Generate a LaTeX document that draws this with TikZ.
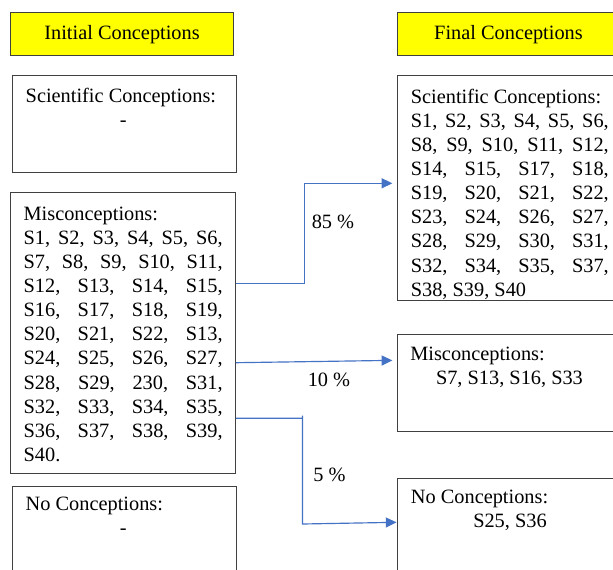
\documentclass[tikz,border=0pt]{standalone}
\usepackage{fontspec}
\setmainfont{Liberation Serif}
\usetikzlibrary{arrows.meta}
\definecolor{arrblue}{HTML}{4472C4}
\definecolor{ybg}{HTML}{FFFF00}
\newcommand{\jl}[2][119.4pt]{\makebox[#1][s]{\spaceskip=0pt\xspaceskip=0pt\relax #2}}
\newcommand{\fs}{\rule{0pt}{10pt}\spaceskip=0pt\xspaceskip=0pt\relax}
\begin{document}
\begin{tikzpicture}[x=0.6pt,y=-0.6pt,
  font=\fontsize{12.2pt}{14.46pt}\selectfont,
  box/.style={draw=black!75, line width=0.6pt, rectangle, inner sep=0pt},
  ybox/.style={box, fill=ybg},
  txt/.style={anchor=north west, inner sep=0pt, align=left},
  arr/.style={draw=arrblue, line width=0.7pt, -{Triangle[length=6.4pt,width=6pt]}},
  pct/.style={anchor=base, inner sep=0pt}]
\useasboundingbox (0,0) rectangle (613,569);
\clip (0,0) rectangle (613,569);
\fill[white] (0,0) rectangle (613,569);
% boxes
\node[ybox, minimum width=133.7pt, minimum height=26.2pt] (iniy) at (122.05,34.15) {Initial Conceptions};
\node[ybox, minimum width=133.8pt, minimum height=26.2pt] (finy) at (508.5,34.15) {Final Conceptions};
\node[box, minimum width=134.4pt, minimum height=58.2pt] (lsc) at (124,123.5) {};
\node[box, minimum width=134.9pt, minimum height=168.4pt] (lmis) at (123.05,333) {};
\node[box, minimum width=134.4pt, minimum height=56pt] (lnc) at (124,533.35) {};
\node[box, minimum width=133.8pt, minimum height=135pt] (rsc) at (508.5,187.5) {};
\node[box, minimum width=133.8pt, minimum height=57.8pt] (rmis) at (508.5,383.15) {};
\node[box, minimum width=133.8pt, minimum height=67pt] (rnc) at (508.5,534) {};
% texts
\node[txt, text width=119.4pt] (lsct) at (25.4,85.3) {\fs Scientific Conceptions:\\\makebox[117.1pt]{-}};
\node[txt, text width=119.4pt] (lmist) at (23.3,203.3) {\fs Misconceptions:\\
\jl{S1, S2, S3, S4, S5, S6,}\\
\jl{S7, S8, S9, S10, S11,}\\
\jl{S12, S13, S14, S15,}\\
\jl{S16, S17, S18, S19,}\\
\jl{S20, S21, S22, S13,}\\
\jl{S24, S25, S26, S27,}\\
\jl{S28, S29, 230, S31,}\\
\jl{S32, S33, S34, S35,}\\
\jl{S36, S37, S38, S39,}\\
S40.};
\node[txt, text width=119.4pt] (lnct) at (25.4,493.3) {\fs No Conceptions:\\\makebox[117.1pt]{-}};
\node[txt, text width=118.8pt] (rsct) at (410.5,86.3) {\fs Scientific Conceptions:\\
\jl[118.8pt]{S1, S2, S3, S4, S5, S6,}\\
\jl[118.8pt]{S8, S9, S10, S11, S12,}\\
\jl[118.8pt]{S14, S15, S17, S18,}\\
\jl[118.8pt]{S19, S20, S21, S22,}\\
\jl[118.8pt]{S23, S24, S26, S27,}\\
\jl[118.8pt]{S28, S29, S30, S31,}\\
\jl[118.8pt]{S32, S34, S35, S37,}\\
S38, S39, S40};
\node[txt] (rmist) at (410,343.8) {\fs Misconceptions:\\\hspace*{15.4pt}S7, S13, S16, S33};
\node[txt] (rnct) at (410.6,486.7) {\fs No Conceptions:\\\hspace*{37.4pt}S25, S36};
% percentages
\node[pct] (p85) at (333,228) {85 \%};
\node[pct] (p10) at (329,386) {10 \%};
\node[pct] (p5) at (329.5,481.5) {5 \%};
% connectors
\draw[arr, shorten >=2.5pt] (lmis.east |- 0,283.5) -- (304.5,283.5) -- (304.5,183.3) -- (rsc.west |- 0,183.3);
\draw[arr, shorten >=2.5pt] (lmis.east |- 0,362.7) -- (rmis.west |- 0,360.3);
\draw[arr] (lmis.east |- 0,418.3) -- (302.5,418.3) (302.5,415.5) -- (302.5,524) -- (rnc.west |- 0,522.3);
\end{tikzpicture}
\end{document}
